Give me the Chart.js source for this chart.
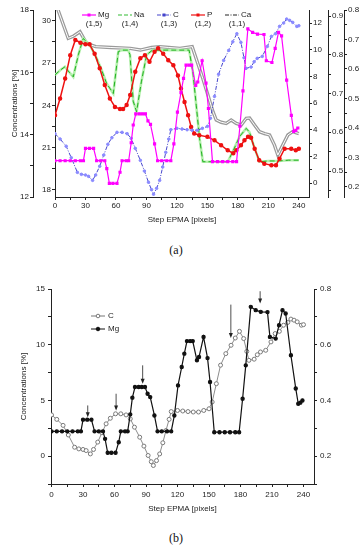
<!doctype html>
<html lang="en">
<head>
    <meta charset="utf-8">
    <title>EPMA concentration profiles</title>
    <style>
        body { margin: 0; background: #fff; }
        .wrap { position: relative; width: 364px; height: 550px; }
        canvas { position: absolute; left: 0; }
        .cap { position: absolute; left: -6px; width: 364px; text-align: center;
               font: 12px "Liberation Serif", "Times New Roman", serif; color: #111; }
    </style>
</head>
<body>
<div class="wrap">
    <canvas id="chartA" width="364" height="240" style="top:0"></canvas>
    <div class="cap" style="top:243px">(a)</div>
    <canvas id="chartB" width="364" height="250" style="top:270px"></canvas>
    <div class="cap" style="top:531px">(b)</div>
</div>

<script src="https://cdn.jsdelivr.net/npm/chart.js@4.4.0/dist/chart.umd.min.js"></script>
<script>
    // ---- data ----
    const cSteps = [0, 5, 11, 16, 22, 26, 30, 33, 37, 40, 44, 48, 52, 56, 61, 66, 71, 75, 79, 84, 88, 92, 95, 97, 100, 103, 106, 109, 112, 114, 120, 125, 130, 135, 140, 145, 150, 153, 157, 161, 166, 171, 175, 179, 183, 186, 188, 193, 196, 199, 204, 209, 213, 217, 221, 225, 228, 231, 234, 238, 240];
    const cConc = [3.7, 3.3, 2.76, 1.9, 0.8, 0.65, 0.6, 0.5, 0.2, 0.6, 1.26, 2.1, 2.9, 3.4, 3.8, 3.8, 3.7, 3.35, 2.6, 1.7, 0.9, 0.06, -0.5, -0.84, -0.4, 0.2, 1.2, 2.3, 3.3, 4.0, 4.1, 4.05, 4.0, 3.96, 3.96, 4.1, 4.25, 4.86, 6.5, 8.16, 9.2, 9.95, 10.6, 11.2, 10.55, 9.4, 8.6, 8.7, 9.1, 9.35, 9.5, 10.25, 11.0, 11.2, 11.75, 12.0, 12.3, 12.2, 12.05, 11.75, 11.8];

    const mgSteps = [0, 5, 10, 15, 20, 25, 28, 30, 34, 38, 41, 45, 49, 51, 53.5, 57, 61, 64, 66, 70, 72.5, 75, 77, 79.5, 83, 86, 89, 91.5, 94, 98, 101, 105, 110, 114, 117, 120.5, 124, 126.5, 129, 132, 134.5, 138.5, 140.5, 144.8, 148.6, 151, 155, 160, 165, 170, 175, 178.7, 182, 185, 189.8, 194.5, 199.3, 205.7, 208, 213.5, 216.7, 220, 223, 228, 232.6, 235, 237, 239];
    const mgConc = [0.289, 0.289, 0.289, 0.289, 0.289, 0.289, 0.289, 0.331, 0.331, 0.331, 0.289, 0.289, 0.289, 0.262, 0.212, 0.212, 0.212, 0.25, 0.289, 0.289, 0.289, 0.35, 0.41, 0.448, 0.448, 0.448, 0.448, 0.424, 0.412, 0.346, 0.289, 0.289, 0.289, 0.289, 0.346, 0.454, 0.52, 0.568, 0.613, 0.613, 0.613, 0.544, 0.556, 0.628, 0.552, 0.466, 0.286, 0.286, 0.286, 0.286, 0.286, 0.286, 0.406, 0.526, 0.736, 0.724, 0.718, 0.717, 0.628, 0.622, 0.67, 0.724, 0.712, 0.562, 0.443, 0.388, 0.392, 0.40];

    const pSteps = [0, 5, 10, 15, 20, 25, 30, 34, 39, 44, 49, 54, 59, 64, 67, 70.5, 74, 79, 84, 88.5, 93, 98, 101.5, 106.5, 111.5, 116.5, 121, 124, 127.5, 131, 134, 137, 142, 150, 157, 163.5, 170, 175.5, 178.5, 183, 186.5, 190, 193, 196.5, 201, 206, 213, 217.5, 221, 226, 232.5, 237, 240];
    const pConc = [14.62, 15.16, 15.8, 16.55, 17.04, 16.95, 16.9, 16.9, 16.6, 16.13, 15.59, 15.16, 14.89, 14.82, 14.82, 14.95, 15.27, 16.02, 16.45, 16.55, 16.34, 16.66, 16.77, 16.6, 16.39, 16.23, 15.9, 15.48, 15.05, 14.62, 14.25, 14.04, 13.98, 13.93, 13.82, 13.66, 13.5, 13.4, 13.5, 13.66, 13.82, 13.93, 13.9, 13.55, 13.18, 13.07, 13.02, 13.02, 13.23, 13.55, 13.55, 13.5, 13.55];

    const caSteps = [0, 3, 13, 18, 24.6, 31, 40, 55, 74, 84, 95, 103, 112, 123, 135, 140.5, 145.5, 150.5, 155.5, 158.7, 163.6, 168.5, 173.4, 178.4, 183.3, 188.2, 191.5, 196.4, 201.3, 206.2, 211.2, 216, 219.3, 224.2, 229.2, 234, 240];
    const caConc = [31.2, 30.76, 28.75, 28.9, 29.22, 28.4, 28.16, 28.1, 28.04, 27.92, 28.1, 28.16, 28.1, 28.04, 28.16, 26.98, 25.9, 24.73, 23.55, 22.96, 22.8, 22.72, 22.96, 22.72, 22.6, 23.08, 23.1, 22.6, 22.13, 22.0, 21.9, 21.18, 20.48, 21.18, 21.9, 22.13, 22.0];

    const naSteps = [0, 5, 9.8, 14, 18, 23, 27.8, 34.4, 41, 46, 50.8, 57.4, 62.3, 66, 72, 73.8, 77, 80.3, 85, 90.2, 96, 105, 115, 125, 132, 135.7, 139, 142.3, 145.5, 155, 165, 170, 175, 181.7, 188.2, 191.5, 196.4, 201.3, 210, 220, 230, 240];
    const naConc = [0.748, 0.76, 0.769, 0.755, 0.743, 0.80, 0.842, 0.825, 0.791, 0.76, 0.726, 0.70, 0.808, 0.812, 0.812, 0.80, 0.68, 0.653, 0.73, 0.80, 0.812, 0.812, 0.812, 0.812, 0.812, 0.756, 0.670, 0.584, 0.524, 0.524, 0.524, 0.524, 0.55, 0.589, 0.61, 0.60, 0.559, 0.524, 0.526, 0.526, 0.528, 0.528];

    const legendNames = ['Mg', 'Na', 'C', 'P', 'Ca'];
    const legendLayers = ['(1,5)', '(1,4)', '(1,3)', '(1,2)', '(1,1)'];

    // arrows in panel (b): step position, start and tip (left axis units)
    const arrowSteps = [34.5, 61.5, 86.8, 170.8, 198.7];
    const arrowTop = [4.55, 5.6, 8.15, 13.6, 14.8];
    const arrowTip = [3.5, 4.1, 6.5, 10.6, 13.7];

    // ---- helpers ----
    const FONT = '"Liberation Sans", Arial, sans-serif';
    const INK = '#222';

    function pairs(xs, ys) {
        return xs.map((x, i) => ({ x: x, y: ys[i] }));
    }

    function steps(a, b, step) {
        const out = [];
        for (let v = a; v <= b + 1e-9; v += step) out.push(+v.toFixed(3));
        return out;
    }

    function axis(o) {
        return {
            type: 'linear',
            position: o.position,
            weight: o.weight || 0,
            min: o.min,
            max: o.max,
            afterBuildTicks: s => { s.ticks = o.ticks.map(v => ({ value: v })); },
            afterFit: s => {
                if (o.width) s.width = o.width;
                if (o.height) s.height = o.height;
            },
            border: { display: true, color: INK, width: 1 },
            grid: { drawOnChartArea: false, drawTicks: true, tickLength: 3, tickColor: INK },
            ticks: {
                autoSkip: false,
                maxRotation: 0,
                padding: o.pad || 1,
                color: INK,
                font: { family: FONT, size: 8 },
                callback: v => o.majors.includes(v) ? String(v) : ''
            },
            title: o.title ? {
                display: true,
                text: o.title,
                color: INK,
                font: { family: FONT, size: 8 },
                padding: o.titlePad
            } : { display: false }
        };
    }

    function line(data, axisId, style) {
        return Object.assign({
            data: data,
            yAxisID: axisId,
            fill: false,
            tension: 0,
            borderWidth: 1,
            pointRadius: 0,
            pointHoverRadius: 0
        }, style);
    }

    // ---- panel (a) ----
    const legendA = {
        id: 'legendA',
        afterDraw(chart) {
            const ctx = chart.ctx;
            const xs = [82, 118, 157, 191, 225];
            const styles = [
                { color: '#ff00ff', dash: [], marker: true },
                { color: '#33bb33', dash: [4, 2], marker: false },
                { color: '#4444cc', dash: [4, 1.5, 1, 1.5], marker: true },
                { color: '#ee1111', dash: [], marker: true },
                { color: '#222222', dash: [4, 1.5, 1, 1.5], marker: false }
            ];
            ctx.save();
            ctx.font = '8px ' + FONT;
            ctx.textBaseline = 'middle';
            legendNames.forEach((name, i) => {
                const x0 = xs[i], y = 15, st = styles[i];
                ctx.strokeStyle = st.color;
                ctx.lineWidth = 1.2;
                ctx.setLineDash(st.dash);
                ctx.beginPath();
                ctx.moveTo(x0, y);
                ctx.lineTo(x0 + 14, y);
                ctx.stroke();
                ctx.setLineDash([]);
                if (st.marker) {
                    ctx.fillStyle = st.color;
                    ctx.fillRect(x0 + 5.5, y - 1.5, 3, 3);
                }
                ctx.fillStyle = INK;
                ctx.textAlign = 'left';
                ctx.fillText(name, x0 + 16, y);
                ctx.textAlign = 'center';
                ctx.fillText(legendLayers[i], x0 + 12, y + 9);
            });
            ctx.restore();
        }
    };

    new Chart(document.getElementById('chartA'), {
        type: 'line',
        data: {
            datasets: [
                line(pairs(mgSteps, mgConc), 'yMg', {
                    borderColor: '#ff00ff', borderWidth: 1.2,
                    pointRadius: 1.4, pointStyle: 'rect',
                    pointBackgroundColor: '#ff00ff', pointBorderColor: '#ff00ff'
                }),
                line(pairs(cSteps, cConc), 'yC', {
                    borderColor: '#4646cc', borderWidth: 1, borderDash: [4, 1.5, 1, 1.5],
                    pointRadius: 1.3, pointBackgroundColor: '#8a8aff', pointBorderColor: '#8a8aff'
                }),
                line(pairs(pSteps, pConc), 'yP', {
                    borderColor: '#ee1111', borderWidth: 1.5,
                    pointRadius: 1.5, pointBackgroundColor: '#ee1111', pointBorderColor: '#ee1111'
                }),
                line(pairs(naSteps, naConc), 'yNa', {
                    borderColor: '#22b022', borderWidth: 1, borderDash: [5, 3]
                }),
                line(pairs(naSteps, naConc), 'yNa', {
                    borderColor: '#b4f0ac', borderWidth: 2.6
                }),
                line(pairs(caSteps, caConc), 'yCa', {
                    borderColor: '#ffffff', borderWidth: 1
                }),
                line(pairs(caSteps, caConc), 'yCa', {
                    borderColor: '#9a9a9a', borderWidth: 3.4
                })
            ]
        },
        options: {
            responsive: false,
            animation: false,
            events: [],
            layout: { padding: { top: 10, left: 0, right: 0, bottom: 0 } },
            plugins: { legend: { display: false }, tooltip: { enabled: false } },
            scales: {
                x: Object.assign(axis({
                    position: 'bottom', min: 0, max: 250, height: 43,
                    ticks: steps(0, 240, 15), majors: steps(0, 240, 30),
                    title: 'Step EPMA [pixels]', titlePad: { top: 0, bottom: 15 }
                }), { type: 'linear' }),
                yCa: axis({
                    position: 'left', weight: 0, width: 22, min: 17.5, max: 30.76,
                    ticks: steps(18, 30, 1.5), majors: [18, 21, 24, 27, 30]
                }),
                yP: axis({
                    position: 'left', weight: 1, width: 33, min: 12, max: 18,
                    ticks: steps(12, 18, 1), majors: [12, 14, 16, 18],
                    title: 'Concentrations [%]', titlePad: { top: 10, bottom: 0 }
                }),
                yC: axis({
                    position: 'right', weight: 0, width: 19, min: -1.05, max: 12.98,
                    ticks: steps(0, 12, 1), majors: [0, 2, 4, 6, 8, 10, 12]
                }),
                yNa: axis({
                    position: 'right', weight: 1, width: 16, min: 0.433, max: 0.9155,
                    ticks: steps(0.45, 0.9, 0.05), majors: [0.5, 0.6, 0.7, 0.8, 0.9]
                }),
                yMg: axis({
                    position: 'right', weight: 2, width: 20, min: 0.166, max: 0.8,
                    ticks: steps(0.2, 0.8, 0.05), majors: [0.2, 0.3, 0.4, 0.5, 0.6, 0.7, 0.8]
                })
            }
        },
        plugins: [legendA]
    });

    // ---- panel (b) ----
    const extrasB = {
        id: 'extrasB',
        afterDraw(chart) {
            const ctx = chart.ctx;
            const x = chart.scales.x, y = chart.scales.yL;
            ctx.save();
            ctx.strokeStyle = INK;
            ctx.fillStyle = INK;
            ctx.lineWidth = 0.8;
            arrowSteps.forEach((s, i) => {
                const px = x.getPixelForValue(s);
                const top = y.getPixelForValue(arrowTop[i]);
                const tip = y.getPixelForValue(arrowTip[i]);
                ctx.beginPath();
                ctx.moveTo(px, top);
                ctx.lineTo(px, tip - 2);
                ctx.stroke();
                ctx.beginPath();
                ctx.moveTo(px - 2, tip - 5);
                ctx.lineTo(px, tip);
                ctx.lineTo(px + 2, tip - 5);
                ctx.closePath();
                ctx.fill();
            });

            // legend
            ctx.font = '8px ' + FONT;
            ctx.textBaseline = 'middle';
            ctx.textAlign = 'left';
            const rows = [
                { name: 'C', y: 46, line: '#777', fill: '#fff' },
                { name: 'Mg', y: 59, line: '#111', fill: '#111' }
            ];
            rows.forEach(r => {
                ctx.strokeStyle = r.line;
                ctx.lineWidth = 1;
                ctx.beginPath();
                ctx.moveTo(91, r.y);
                ctx.lineTo(105, r.y);
                ctx.stroke();
                ctx.beginPath();
                ctx.arc(98, r.y, 1.8, 0, Math.PI * 2);
                ctx.fillStyle = r.fill;
                ctx.fill();
                ctx.stroke();
                ctx.fillStyle = INK;
                ctx.fillText(r.name, 108, r.y);
            });
            ctx.restore();
        }
    };

    new Chart(document.getElementById('chartB'), {
        type: 'line',
        data: {
            datasets: [
                line(pairs(mgSteps, mgConc), 'yR', {
                    borderColor: '#111', borderWidth: 1.2,
                    pointRadius: 1.6, pointBackgroundColor: '#111', pointBorderColor: '#111'
                }),
                line(pairs(cSteps, cConc), 'yL', {
                    borderColor: '#8c8c8c', borderWidth: 1,
                    pointRadius: 2, pointBackgroundColor: '#fff',
                    pointBorderColor: '#7a7a7a', pointBorderWidth: 1
                })
            ]
        },
        options: {
            responsive: false,
            animation: false,
            events: [],
            layout: { padding: { top: 19, left: 0, right: 0, bottom: 0 } },
            plugins: { legend: { display: false }, tooltip: { enabled: false } },
            scales: {
                x: axis({
                    position: 'bottom', min: -0.5, max: 250, height: 36, pad: 3,
                    ticks: steps(0, 240, 15), majors: steps(0, 240, 30),
                    title: 'Step EPMA [pixels]', titlePad: { top: 0, bottom: 6 }
                }),
                yL: axis({
                    position: 'left', width: 51, min: -2.5, max: 15, pad: 3,
                    ticks: steps(-2.5, 15, 2.5), majors: [0, 5, 10, 15],
                    title: 'Concentrations [%]', titlePad: { top: 19, bottom: 0 }
                }),
                yR: axis({
                    position: 'right', width: 50, min: 0.1, max: 0.8, pad: 3,
                    ticks: steps(0.1, 0.8, 0.1), majors: [0.2, 0.4, 0.6, 0.8]
                })
            }
        },
        plugins: [extrasB]
    });
</script>
</body>
</html>
